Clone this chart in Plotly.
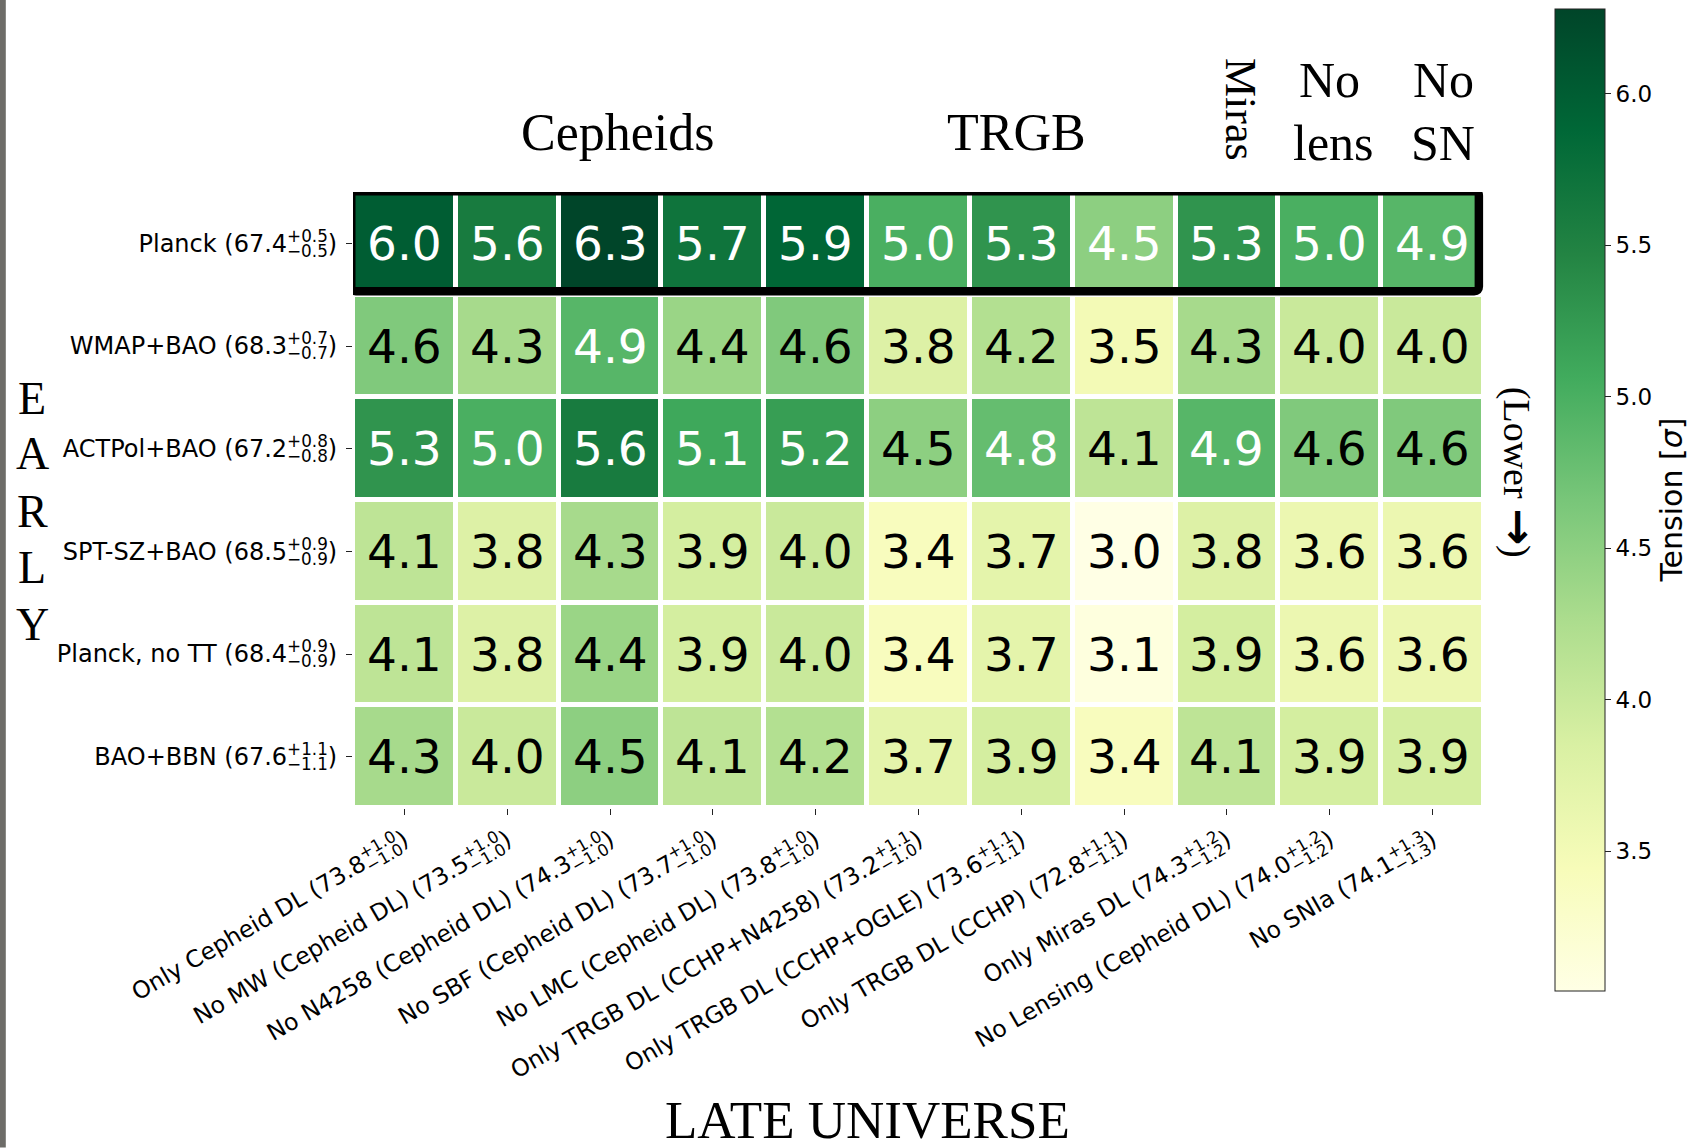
import plotly.graph_objects as go

# ---- data -----------------------------------------------------------------
early_names = ["Planck", "WMAP+BAO", "ACTPol+BAO", "SPT-SZ+BAO", "Planck, no TT", "BAO+BBN"]
early_h0 = [67.4, 68.3, 67.2, 68.5, 68.4, 67.6]
early_err_up = [0.5, 0.7, 0.8, 0.9, 0.9, 1.1]
early_err_dn = [0.5, 0.7, 0.8, 0.9, 0.9, 1.1]

late_names = [
    "Only Cepheid DL", "No MW (Cepheid DL)", "No N4258 (Cepheid DL)",
    "No SBF (Cepheid DL)", "No LMC (Cepheid DL)", "Only TRGB DL (CCHP+N4258)",
    "Only TRGB DL (CCHP+OGLE)", "Only TRGB DL (CCHP)", "Only Miras DL",
    "No Lensing (Cepheid DL)", "No SNIa",
]
late_h0 = [73.8, 73.5, 74.3, 73.7, 73.8, 73.2, 73.6, 72.8, 74.3, 74.0, 74.1]
late_err_up = [1.0, 1.0, 1.0, 1.0, 1.0, 1.1, 1.1, 1.1, 1.2, 1.2, 1.3]
late_err_dn = [1.0, 1.0, 1.0, 1.0, 1.0, 1.0, 1.1, 1.1, 1.2, 1.2, 1.3]

tension_planck = [6.0, 5.6, 6.3, 5.7, 5.9, 5.0, 5.3, 4.5, 5.3, 5.0, 4.9]
tension_wmap_bao = [4.6, 4.3, 4.9, 4.4, 4.6, 3.8, 4.2, 3.5, 4.3, 4.0, 4.0]
tension_actpol_bao = [5.3, 5.0, 5.6, 5.1, 5.2, 4.5, 4.8, 4.1, 4.9, 4.6, 4.6]
tension_sptsz_bao = [4.1, 3.8, 4.3, 3.9, 4.0, 3.4, 3.7, 3.0, 3.8, 3.6, 3.6]
tension_planck_nott = [4.1, 3.8, 4.4, 3.9, 4.0, 3.4, 3.7, 3.1, 3.9, 3.6, 3.6]
tension_bao_bbn = [4.3, 4.0, 4.5, 4.1, 4.2, 3.7, 3.9, 3.4, 4.1, 3.9, 3.9]

tension = [tension_planck, tension_wmap_bao, tension_actpol_bao,
           tension_sptsz_bao, tension_planck_nott, tension_bao_bbn]

group_titles = ["Cepheids", "TRGB"]
cbar_ticks = [3.5, 4.0, 4.5, 5.0, 5.5, 6.0]

# ---- geometry (pixels) ----------------------------------------------------
W, H = 1699, 1148
PL, PR, PT, PB = 353.2, 1484.2, 192.3, 808.5   # plot-area edges


def px(xp):
    return (xp - PL) / (PR - PL)


def py(yp):
    return (PB - yp) / (PB - PT)


# DejaVu Sans advance widths (em) for the characters used in scripts
ADV = {"+": 0.838, "\u2212": 0.838, ".": 0.318, " ": 0.318}


def adv(s):
    return sum(ADV.get(c, 0.636) for c in s)


def h0_label(name, h0, up, dn, size):
    """Name with H0 value and stacked super/subscript errors."""
    sup = f"+{up:.1f}"
    sub = f"\u2212{dn:.1f}"
    back = adv(sup) * size * 0.7 + adv(" ") * size
    return (f"{name} ({h0:.1f}<sup>{sup}</sup>"
            f"<span style=\"letter-spacing:-{back:.1f}px\"> </span>"
            f"<sub>{sub}</sub>)")


YFONT = 24
XFONT = 23.5
y_labels = [h0_label(n, v, u, d, YFONT)
            for n, v, u, d in zip(early_names, early_h0, early_err_up, early_err_dn)]
x_labels = [h0_label(n, v, u, d, XFONT)
            for n, v, u, d in zip(late_names, late_h0, late_err_up, late_err_dn)]

# matplotlib YlGn
ylgn = ["#ffffe5", "#f7fcb9", "#d9f0a3", "#addd8e", "#78c679",
        "#41ab5d", "#238443", "#006837", "#004529"]
colorscale = [[i / (len(ylgn) - 1), c] for i, c in enumerate(ylgn)]

# colorbar box: x 1555..1605 px, y 9..991 px
CB_TOP, CB_BOT = 9, 991

fig = go.Figure()
fig.add_trace(go.Heatmap(
    z=tension,
    x=list(range(len(late_names))),
    y=list(range(len(early_names))),
    colorscale=colorscale,
    zmin=3.04, zmax=6.28,
    xgap=5, ygap=5,
    hoverinfo="skip",
    colorbar=dict(
        thickness=50, thicknessmode="pixels",
        len=(CB_BOT - CB_TOP) / (PB - PT), lenmode="fraction",
        x=px(1555), xanchor="left",
        y=py((CB_TOP + CB_BOT) / 2), yanchor="middle",
        xpad=0, ypad=0,
        outlinewidth=1, outlinecolor="#222222",
        tickvals=cbar_ticks, ticktext=[f"{t:.1f}" for t in cbar_ticks],
        ticks="outside", ticklen=6, tickcolor="#222222",
        tickfont=dict(family="DejaVu Sans", size=23, color="black"),
        title=dict(text="Tension [<i>σ</i>]", side="right",
                   font=dict(family="DejaVu Sans", size=30, color="black")),
    ),
))

annotations = []

# values written in each cell
for i, row in enumerate(tension):
    for j, v in enumerate(row):
        color = "white" if (i == 0 or v >= 4.7) else "black"
        annotations.append(dict(
            x=j, y=i, xref="x", yref="y", text=f"{v:.1f}", showarrow=False,
            font=dict(family="DejaVu Sans", size=47, color=color),
        ))

SERIF = "Liberation Serif"


def label(text, xp, yp, size, angle=0):
    annotations.append(dict(
        x=px(xp), y=py(yp), xref="paper", yref="paper", text=text,
        showarrow=False, textangle=angle, xanchor="center", yanchor="middle",
        font=dict(family=SERIF, size=size, color="black"),
    ))


# column-group headings
label(group_titles[0], 618, 133, 52)
label(group_titles[1], 1017, 133, 52)
label("Miras", 1240, 110, 44, angle=90)
label("No", 1330, 80, 50)
label("lens", 1334, 143, 50)
label("No", 1444, 80, 50)
label("SN", 1443, 143, 50)

# axis titles
for ch, yp in zip("EARLY", [399, 454, 512, 568, 625]):
    label(ch, 32.5, yp, 46)
label("LATE UNIVERSE", 868, 1121, 53)
label("(Lower <span style=\"font-family:'DejaVu Sans';font-weight:bold;font-size:44px\">\u2192</span>)",
      1520, 473, 38, angle=90)

# rounded frame around the Planck row (data units)
bx0, bx1, by0, by1 = -0.517, 10.45, -0.508, 0.466
rx, ry = 0.045, 0.045
frame = (f"M {bx0 + rx},{by0} L {bx1 - rx},{by0} Q {bx1},{by0} {bx1},{by0 + ry} "
         f"L {bx1},{by1 - ry} Q {bx1},{by1} {bx1 - rx},{by1} "
         f"L {bx0 + rx},{by1} Q {bx0},{by1} {bx0},{by1 - ry} "
         f"L {bx0},{by0 + ry} Q {bx0},{by0} {bx0 + rx},{by0} Z")

shapes = [
    dict(type="path", path=frame, xref="x", yref="y",
         line=dict(color="black", width=8.5), layer="above"),
    # dark strip along the left edge
    dict(type="rect", xref="paper", yref="paper",
         x0=px(0), x1=px(6), y0=py(H), y1=py(0),
         fillcolor="#6d6c68", line=dict(width=0), layer="below"),
]

fig.update_layout(
    width=W, height=H,
    margin=dict(l=PL, r=W - PR, t=PT, b=H - PB, autoexpand=False),
    paper_bgcolor="white", plot_bgcolor="white",
    annotations=annotations,
    shapes=shapes,
    xaxis=dict(
        range=[-0.5, len(late_names) - 0.5],
        tickvals=list(range(len(late_names))), ticktext=x_labels,
        tickangle=-30, ticks="outside", ticklen=6, tickwidth=1.2,
        tickcolor="#222222", ticklabelstandoff=2,
        tickfont=dict(family="DejaVu Sans", size=XFONT, color="black"),
        showgrid=False, zeroline=False, showline=False, fixedrange=True,
    ),
    yaxis=dict(
        range=[len(early_names) - 0.5, -0.5],
        tickvals=list(range(len(early_names))), ticktext=y_labels,
        ticks="outside", ticklen=6, tickwidth=1.2, tickcolor="#222222",
        ticklabelstandoff=4,
        tickfont=dict(family="DejaVu Sans", size=YFONT, color="black"),
        showgrid=False, zeroline=False, showline=False, fixedrange=True,
    ),
)

fig.write_html("out.html")
